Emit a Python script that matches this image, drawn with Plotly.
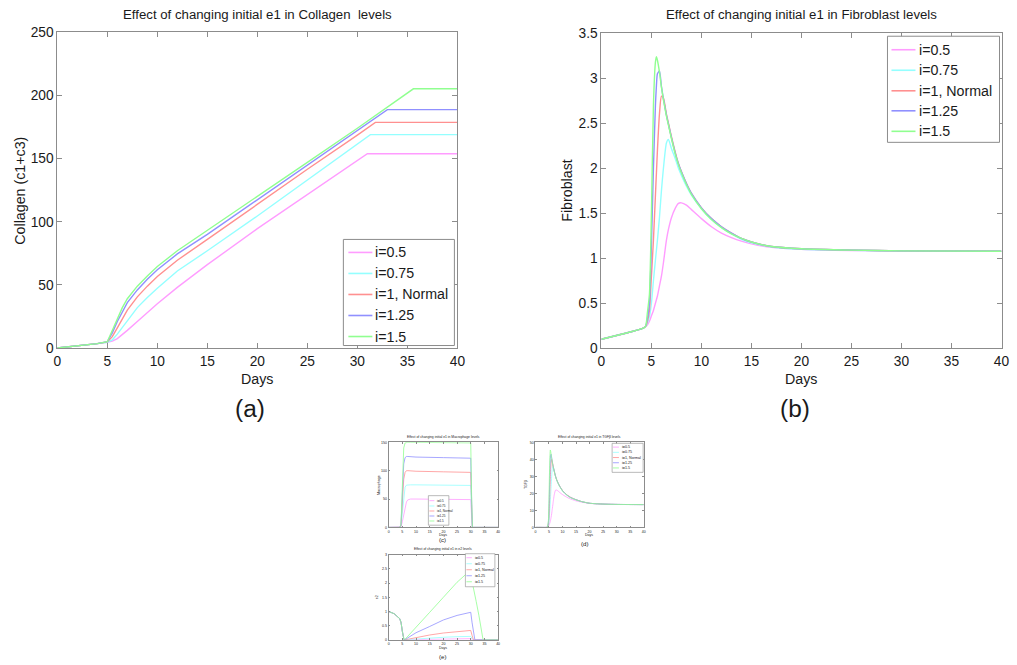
import plotly.graph_objects as go

# Figure canvas; the photographed page maps figure pixels to picture pixels as
# pic = A + S * fig (measured), so layout positions are given in picture pixels
# and converted below.
W, H = 1017, 680
AX, SX = 3.7, 0.988
AY, SY = 6.8, 0.977
FS = 1 / ((SX + SY) / 2)
FONT = "Liberation Sans, Arial, sans-serif"
TXT = "#1a1a1a"
AXC = "#8c8c8c"

series_names = ["i=0.5", "i=0.75", "i=1, Normal", "i=1.25", "i=1.5"]
series_colors = ["#ff9cff", "#94ffff", "#ff9090", "#9090ff", "#90ff90"]

# ---------------- (a) Collagen (c1+c3) ----------------
col_days_early = [0, 1, 2, 3, 4, 5, 5.5, 6, 6.5, 7, 8, 9, 10, 12, 15, 20, 25, 30]
col_05 = [0, 0.8, 1.6, 2.5, 3.5, 4.6, 5.5, 7.5, 10.5, 14, 21, 28, 35, 48, 66, 94.5, 121.5, 148.4]
col_075 = [0, 0.8, 1.6, 2.5, 3.5, 4.6, 6.5, 11, 16.5, 22, 32, 40, 47.4, 61, 77, 104.5, 133, 161.5]
col_1 = [0, 0.8, 1.6, 2.5, 3.5, 4.8, 9, 16, 23, 30, 40.5, 49, 56.6, 69.5, 86, 114, 141.5, 168.5]
col_125 = [0, 0.8, 1.6, 2.5, 3.5, 5, 12, 21, 29, 36, 46, 54.5, 62, 74.5, 90, 117.5, 145, 172]
col_15 = [0, 0.8, 1.6, 2.5, 3.5, 5, 14, 24, 32, 39, 49, 57, 64.5, 77, 93, 120, 147, 174]
col_end_days = [31.0, 31.3, 31.8, 33.0, 35.6]   # day where each curve levels off
col_end_vals = [153.8, 168.9, 178.6, 188.7, 205.2]
col_series = [col_05, col_075, col_1, col_125, col_15]

# ---------------- (b) Fibroblast ----------------
fib_days = [0, 2, 4, 4.4, 4.6, 4.8, 5.0, 5.2, 5.4, 5.5, 5.6, 5.8, 6.0, 6.2, 6.5, 6.7, 7.0,
            7.4, 7.7, 8, 8.5, 9, 10, 11, 12, 13, 14, 15, 17, 20, 25, 30, 40]
fib_15 = [0.1, 0.155, 0.215, 0.24, 0.4, 0.6, 1.5, 2.7, 3.18, 3.24, 3.2, 3.07, 2.9, 2.76, 2.58, 2.48, 2.33,
          2.15, 2.04, 1.95, 1.82, 1.71, 1.55, 1.43, 1.34, 1.27, 1.22, 1.18, 1.13, 1.105, 1.09, 1.082, 1.078]
fib_125 = [0.1, 0.155, 0.215, 0.24, 0.33, 0.5, 1.15, 2.0, 2.7, 2.92, 3.05, 3.08, 2.91, 2.77, 2.59, 2.49, 2.34,
           2.16, 2.05, 1.96, 1.83, 1.72, 1.56, 1.44, 1.35, 1.28, 1.22, 1.18, 1.13, 1.105, 1.09, 1.082, 1.078]
fib_1 = [0.1, 0.155, 0.215, 0.24, 0.3, 0.42, 0.8, 1.2, 1.7, 1.95, 2.2, 2.6, 2.8, 2.78, 2.6, 2.5, 2.35,
         2.17, 2.05, 1.96, 1.83, 1.72, 1.56, 1.44, 1.35, 1.28, 1.22, 1.18, 1.13, 1.105, 1.09, 1.082, 1.078]
fib_075 = [0.1, 0.155, 0.215, 0.24, 0.28, 0.35, 0.5, 0.75, 0.98, 1.09, 1.2, 1.45, 1.75, 2.0, 2.28, 2.32, 2.22,
           2.1, 2.0, 1.92, 1.8, 1.7, 1.55, 1.43, 1.34, 1.27, 1.21, 1.17, 1.125, 1.1, 1.088, 1.08, 1.078]
fib_05 = [0.1, 0.155, 0.215, 0.24, 0.26, 0.3, 0.36, 0.42, 0.5, 0.54, 0.58, 0.69, 0.8, 0.95, 1.2, 1.32, 1.45,
          1.56, 1.61, 1.615, 1.59, 1.54, 1.44, 1.35, 1.28, 1.23, 1.19, 1.16, 1.12, 1.098, 1.085, 1.08, 1.078]
fib_series = [fib_05, fib_075, fib_1, fib_125, fib_15]

# ---------------- (c) Macrophage ----------------
mac_days = [0, 4, 4.5, 5, 5.5, 6, 6.5, 7, 8, 10, 20, 30, 30.3, 30.6, 40]
mac_15 = [0, 0, 5, 70, 140, 149, 150, 150, 150, 150, 149.5, 149, 60, 0, 0]
mac_125 = [0, 0, 4, 55, 112, 123, 125, 125, 124.5, 124, 123, 122, 50, 0, 0]
mac_1 = [0, 0, 3, 40, 85, 97, 100, 100, 99.5, 99, 98, 97, 40, 0, 0]
mac_075 = [0, 0, 2, 25, 58, 71, 74.5, 75, 75, 75, 74.5, 74, 30, 0, 0]
mac_05 = [0, 0, 1, 10, 24, 37, 45, 48.5, 50, 50, 49.5, 49, 20, 0, 0]
mac_series = [mac_05, mac_075, mac_1, mac_125, mac_15]

# ---------------- (d) TGFβ ----------------
tgf_days = fib_days
tgf_15 = [0, 0, 0, 0.3, 1.5, 4, 15, 32, 43, 45.5, 45, 43, 40.5, 38.5, 36, 34.5, 32.5,
          30, 28.5, 27.3, 25.5, 24, 21.5, 19.8, 18.5, 17.5, 16.8, 16.2, 15.2, 14.2, 13.7, 13.5, 13.4]
tgf_125 = [0, 0, 0, 0.2, 1, 3, 10, 22, 35, 40, 42.5, 43, 41, 38.7, 36.2, 34.7, 32.7,
           30.2, 28.7, 27.4, 25.6, 24.1, 21.6, 19.9, 18.6, 17.6, 16.9, 16.3, 15.2, 14.2, 13.7, 13.5, 13.4]
tgf_1 = [0, 0, 0, 0.2, 0.8, 2, 6, 14, 24, 29, 33, 38, 40, 39, 36.5, 35, 33,
         30.4, 28.8, 27.5, 25.7, 24.2, 21.7, 20, 18.7, 17.7, 16.9, 16.3, 15.2, 14.2, 13.7, 13.5, 13.4]
tgf_075 = [0, 0, 0, 0.1, 0.5, 1.2, 3, 7, 12, 15, 18, 24, 30, 34, 35.5, 35, 33,
           30.2, 28.6, 27.3, 25.5, 24, 21.5, 19.8, 18.5, 17.5, 16.8, 16.2, 15.2, 14.2, 13.7, 13.5, 13.4]
tgf_05 = [0, 0, 0, 0.1, 0.3, 0.7, 1.3, 2, 3, 3.6, 4.3, 6, 8, 10.5, 14, 16.5, 19.5,
          21.8, 22, 21.8, 21.2, 20.5, 19.3, 18.3, 17.4, 16.7, 16.1, 15.6, 14.9, 14.1, 13.7, 13.5, 13.4]
tgf_series = [tgf_05, tgf_075, tgf_1, tgf_125, tgf_15]

# ---------------- (e) e2 ----------------
e2_days = [0, 2, 4, 4.5, 5, 5.3, 5.6, 6, 10, 15, 20, 25, 29.5, 30, 30.5, 31, 31.5, 32, 33, 34, 34.5, 40]
e2_15 = [1.0, 0.92, 0.75, 0.62, 0.3, 0.05, 0, 0.02, 0.43, 0.97, 1.5, 2.03, 2.42, 2.45, 2.05, 1.85, 1.6, 1.35, 0.85, 0.3, 0, 0]
e2_125 = [1.0, 0.92, 0.75, 0.62, 0.3, 0.05, 0, 0.01, 0.25, 0.47, 0.7, 0.86, 0.96, 0.97, 0.6, 0.2, 0, 0, 0, 0, 0, 0]
e2_1 = [1.0, 0.92, 0.75, 0.62, 0.3, 0.05, 0, 0, 0.08, 0.17, 0.24, 0.29, 0.32, 0.33, 0.15, 0, 0, 0, 0, 0, 0, 0]
e2_075 = [1.0, 0.92, 0.75, 0.62, 0.3, 0.05, 0, 0, 0.03, 0.06, 0.09, 0.11, 0.12, 0.12, 0.05, 0, 0, 0, 0, 0, 0, 0]
e2_05 = [1.0, 0.92, 0.75, 0.62, 0.3, 0.05, 0, 0, 0.01, 0.02, 0.03, 0.035, 0.04, 0.04, 0.02, 0, 0, 0, 0, 0, 0, 0]
e2_series = [e2_05, e2_075, e2_1, e2_125, e2_15]


def px(x):
    return ((x - AX) / SX) / W


def py(y):
    return 1 - ((y - AY) / SY) / H


def fs(s):
    return s * FS


fig = go.Figure()

for k in range(5):
    xs = col_days_early + [col_end_days[k], 40]
    ys = col_series[k] + [col_end_vals[k], col_end_vals[k]]
    fig.add_trace(go.Scatter(x=xs, y=ys, mode="lines", name=series_names[k], showlegend=False,
                             line=dict(color=series_colors[k], width=1.4), xaxis="x", yaxis="y"))
for k in range(5):
    fig.add_trace(go.Scatter(x=fib_days, y=fib_series[k], mode="lines", name=series_names[k], showlegend=False,
                             line=dict(color=series_colors[k], width=1.4, shape="spline", smoothing=0.6),
                             xaxis="x2", yaxis="y2"))
for k in range(5):
    fig.add_trace(go.Scatter(x=mac_days, y=mac_series[k], mode="lines", name=series_names[k], showlegend=False,
                             line=dict(color=series_colors[k], width=0.8), xaxis="x3", yaxis="y3"))
for k in range(5):
    fig.add_trace(go.Scatter(x=tgf_days, y=tgf_series[k], mode="lines", name=series_names[k], showlegend=False,
                             line=dict(color=series_colors[k], width=0.8, shape="spline", smoothing=0.6),
                             xaxis="x4", yaxis="y4"))
for k in range(5):
    fig.add_trace(go.Scatter(x=e2_days, y=e2_series[k], mode="lines", name=series_names[k], showlegend=False,
                             line=dict(color=series_colors[k], width=0.8), xaxis="x5", yaxis="y5"))


def axis(domain, rng, dtick, fsize, anchor, ticklen):
    return dict(domain=domain, range=rng, dtick=dtick, tick0=0, showline=True, mirror="ticks",
                linecolor=AXC, linewidth=1, ticks="inside", ticklen=ticklen, tickcolor=AXC,
                tickwidth=1, tickfont=dict(size=fs(fsize), color=TXT, family=FONT), showgrid=False,
                zeroline=False, anchor=anchor, fixedrange=True)


fig.update_layout(
    width=W, height=H, margin=dict(l=0, r=0, t=0, b=0),
    paper_bgcolor="white", plot_bgcolor="white", showlegend=False,
    font=dict(family=FONT, color=TXT),
    xaxis=axis([px(57), px(457)], [0, 40], 5, 13.5, "y", 5),
    yaxis=axis([py(347.5), py(32)], [0, 250], 50, 13.5, "x", 5),
    xaxis2=axis([px(601), px(1001)], [0, 40], 5, 13.5, "y2", 5),
    yaxis2=axis([py(347.7), py(33)], [0, 3.5], 0.5, 13.5, "x2", 5),
    xaxis3=axis([px(388.3), px(497.7)], [0, 40], 5, 3.5, "y3", 1.5),
    yaxis3=axis([py(526.7), py(441.7)], [0, 150], 50, 3.5, "x3", 1.5),
    xaxis4=axis([px(535), px(643.3)], [0, 40], 5, 3.5, "y4", 1.5),
    yaxis4=axis([py(526.7), py(441.7)], [0, 50], 10, 3.5, "x4", 1.5),
    xaxis5=axis([px(388.3), px(497.7)], [0, 40], 5, 3.5, "y5", 1.5),
    yaxis5=axis([py(639), py(554)], [0, 3], 0.5, 3.5, "x5", 1.5),
)

ann = []
shapes = []


def text(x, y, s, size, angle=0, xanchor="center", yanchor="middle"):
    ann.append(dict(x=px(x), y=py(y), xref="paper", yref="paper", text=s, showarrow=False,
                    font=dict(size=fs(size), family=FONT, color=TXT), textangle=angle,
                    xanchor=xanchor, yanchor=yanchor))


# main titles and labels
text(257, 14, "Effect of changing initial e1 in Collagen  levels", 13)
text(801, 14, "Effect of changing initial e1 in Fibroblast levels", 13)
text(257, 378, "Days", 14)
text(801, 378, "Days", 14)
text(20, 190, "Collagen (c1+c3)", 14, -90)
text(567, 190, "Fibroblast", 14, -90)
text(250, 408, "(a)", 24)
text(795, 408, "(b)", 24)

# small panels
text(443, 436, "Effect of changing initial e1 in Macrophage levels", 3.3)
text(589, 436, "Effect of changing initial e1 in TGFβ levels", 3.3)
text(443, 548, "Effect of changing initial e1 in e2 levels", 3.3)
text(443, 534, "Days", 3.5)
text(589, 534, "Days", 3.5)
text(443, 647, "Days", 3.5)
text(378, 484, "Macrophage", 3.5, -90)
text(525, 484, "TGFβ", 3.5, -90)
text(376, 596, "e2", 3.5, -90)
text(442, 538.5, "(c)", 6)
text(584, 543, "(d)", 6)
text(442, 656, "(e)", 6)


def legend_box(x0, y0, x1, y1, ys, lx0, lx1, tx, fsize, lw, bw):
    shapes.append(dict(type="rect", xref="paper", yref="paper", x0=px(x0), x1=px(x1),
                       y0=py(y1), y1=py(y0), line=dict(color=AXC, width=bw), fillcolor="white",
                       layer="above"))
    for k in range(5):
        shapes.append(dict(type="line", xref="paper", yref="paper", x0=px(lx0), x1=px(lx1),
                           y0=py(ys[k]), y1=py(ys[k]), line=dict(color=series_colors[k], width=lw),
                           layer="above"))
        text(tx, ys[k], series_names[k], fsize, xanchor="left")


legend_box(343, 239, 454, 345, [252, 273, 294, 315, 336], 348, 372, 373, 14, 1.6, 1)
legend_box(887, 36, 999, 142, [49.5, 70, 90.5, 110.5, 131], 891, 915, 916.5, 14, 1.6, 1)
legend_box(428, 495, 448.5, 524.5, [500, 505.3, 510.3, 515.3, 520.3], 429, 434, 434.8, 3, 0.8, 0.6)
legend_box(611.7, 442.7, 642.7, 471.7, [446.5, 451.7, 456.9, 462.1, 467.3], 612.5, 618.5, 619.3, 3.6, 0.8, 0.6)
legend_box(465, 553, 494.5, 586, [557, 563, 569, 575, 581], 466, 471.5, 472.3, 3.6, 0.8, 0.6)

fig.update_layout(annotations=ann, shapes=shapes)
fig.write_html("out.html")
